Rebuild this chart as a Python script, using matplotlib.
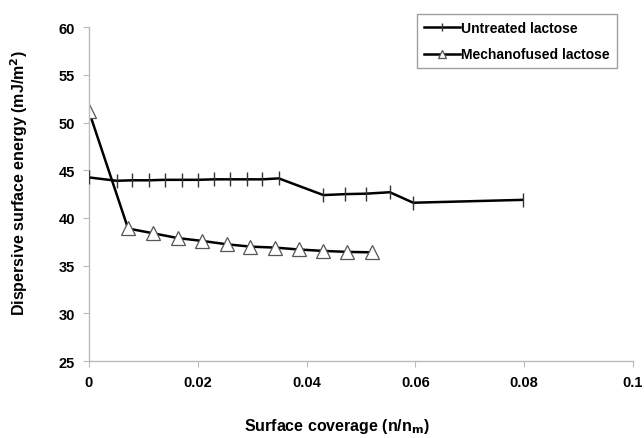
import matplotlib
matplotlib.use('Agg')
from matplotlib import pyplot as plt

plt.rcParams['font.family'] = ['Liberation Sans', 'DejaVu Sans']

# Untreated lactose
untreated_x = [0.0, 0.0051, 0.0080, 0.0111, 0.0140, 0.0171, 0.0200, 0.0230, 0.0260,
               0.0290, 0.0319, 0.0349, 0.0431, 0.0471, 0.0510, 0.0553, 0.0596, 0.0797]
untreated_y = [44.25, 43.9, 43.95, 43.95, 44.0, 44.0, 44.0, 44.05, 44.05,
               44.05, 44.05, 44.15, 42.4, 42.5, 42.55, 42.7, 41.6, 41.9]

# Mechanofused lactose
mech_x = [0.0, 0.0072, 0.0118, 0.0163, 0.0208, 0.0253, 0.0297, 0.0342, 0.0386,
          0.0431, 0.0475, 0.0520]
mech_y = [51.2, 38.9, 38.4, 37.9, 37.6, 37.25, 37.0, 36.9, 36.7,
          36.55, 36.45, 36.4]

xticks = [0, 0.02, 0.04, 0.06, 0.08, 0.1]
xticklabels = ['0', '0.02', '0.04', '0.06', '0.08', '0.1']
yticks = [25, 30, 35, 40, 45, 50, 55, 60]

fig = plt.figure(figsize=(6.44, 4.39), dpi=100)
ax = fig.add_axes([0.138, 0.175, 0.845, 0.761])

ax.plot(untreated_x, untreated_y, color='black', lw=1.8, marker='|',
        markersize=10, markeredgewidth=1.0, markeredgecolor='#333333',
        label='Untreated lactose', zorder=3)
ax.plot(mech_x, mech_y, color='black', lw=1.8, marker='^',
        markersize=10, markerfacecolor='white', markeredgecolor='#555555',
        markeredgewidth=0.9, label='Mechanofused lactose', zorder=2)

ax.set_xlim(0, 0.1)
ax.set_ylim(25, 60)
ax.set_xticks(xticks)
ax.set_xticklabels(xticklabels)
ax.set_yticks(yticks)

for side in ['top', 'right']:
    ax.spines[side].set_visible(False)
for side in ['left', 'bottom']:
    ax.spines[side].set_color('#bbbbbb')
    ax.spines[side].set_linewidth(1.0)
ax.tick_params(axis='both', direction='out', length=4, color='#bbbbbb',
               labelsize=10.5, pad=6)
for lbl in ax.get_xticklabels() + ax.get_yticklabels():
    lbl.set_fontweight('bold')

ax.set_ylabel('Dispersive surface energy (mJ/m$^\\mathbf{2}$)', fontsize=11.5,
              fontweight='bold')
ax.set_xlabel('Surface coverage (n/n$_\\mathbf{m}$)', fontsize=11.5,
              fontweight='bold')
# Excel puts the axis titles a bit off-centre
ax.yaxis.set_label_coords(-0.108, 0.537)
ax.xaxis.set_label_coords(0.456, -0.165)

leg = ax.legend(loc='upper left', bbox_to_anchor=(0.590, 1.06), frameon=True,
                fancybox=False, edgecolor='#888888', handlelength=2.6,
                handletextpad=0.1, borderpad=0.5, labelspacing=0.9,
                markerscale=0.6, prop={'weight': 'bold', 'size': 10})
leg.get_frame().set_linewidth(1.0)

fig.savefig('out.png', dpi=100)
